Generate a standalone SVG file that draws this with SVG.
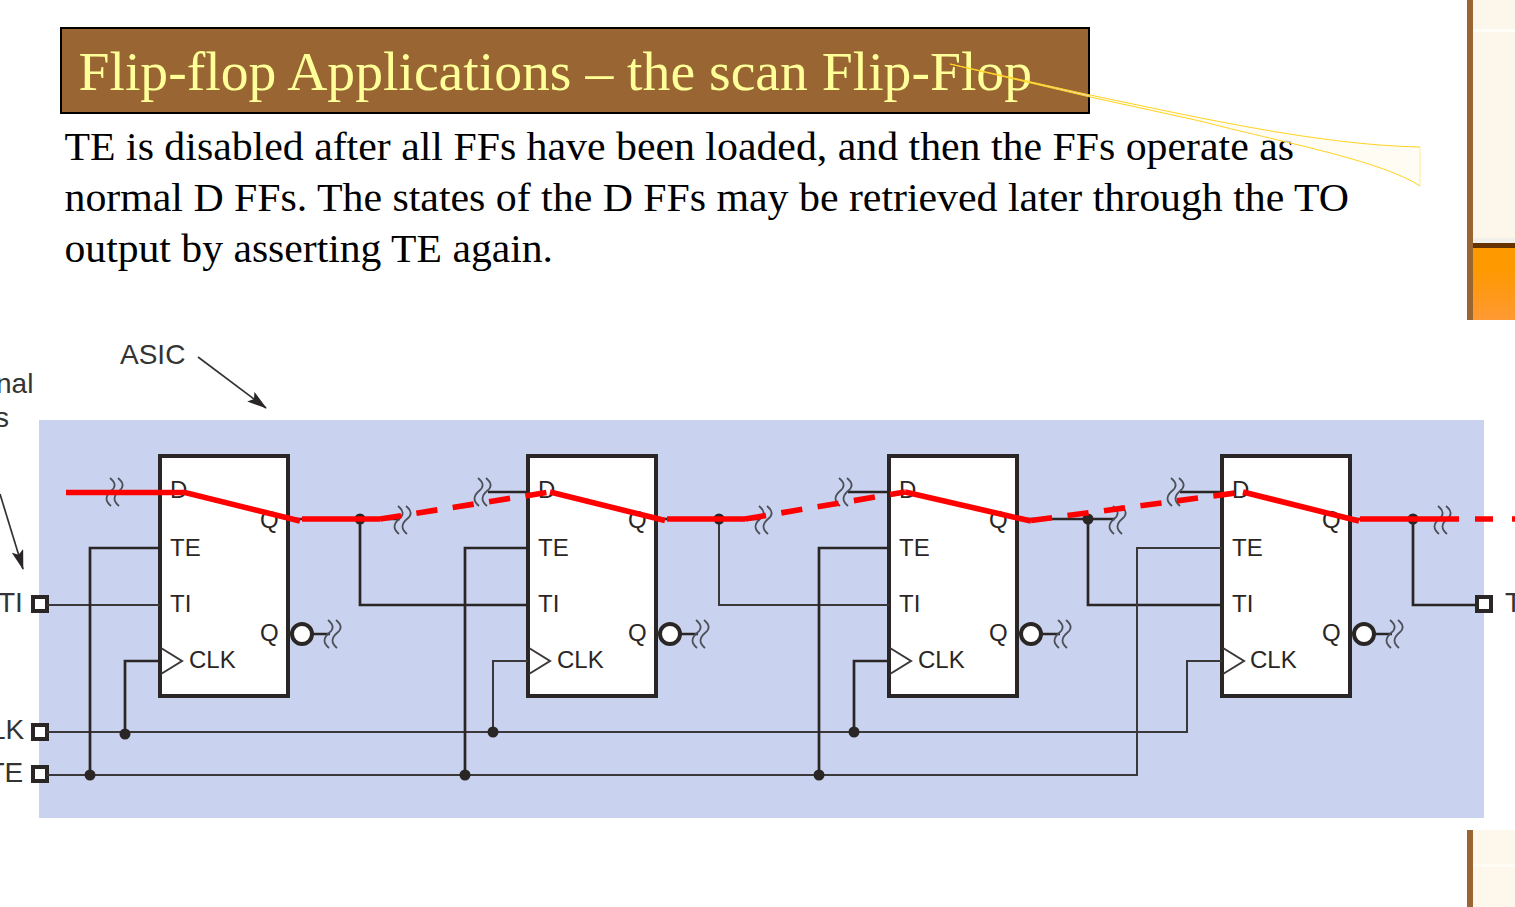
<svg xmlns="http://www.w3.org/2000/svg" xmlns:xlink="http://www.w3.org/1999/xlink" width="1515" height="907" viewBox="0 0 1515 907">
<style>
.w{fill:none;stroke:#2b2626;stroke-width:2.7}
.n{fill:none;stroke:#3a3838;stroke-width:2}
.th{fill:none;stroke:#4d5058;stroke-width:1.8}
.a{fill:none;stroke:#333;stroke-width:1.7}
.b{fill:#fff;stroke:#2b2626;stroke-width:4}
.p{fill:#fff;stroke:#2b2626;stroke-width:4}
.d{fill:#2b2626}
.l{font-family:"Liberation Sans",Arial,sans-serif;font-size:24px;fill:#2b2626}
.o{font-family:"Liberation Sans",Arial,sans-serif;font-size:28px;fill:#333}
.body{font-family:"Liberation Serif","Times New Roman",serif;font-size:40px;fill:#000}
.r{fill:none;stroke:#f00;stroke-width:5.6}
.rd{fill:none;stroke:#f00;stroke-width:5.6;stroke-dasharray:21.300 15.500}
</style>
<defs>
<path id="sq" d="M-1,-14c6,5 6,9 1,13c-6,5 -6,10 0,15M7,-14c6,5 6,9 1,13c-6,5 -6,10 0,15" class="th"/>
<linearGradient id="og" x1="0" y1="0" x2="0" y2="1"><stop offset="0.3" stop-color="#ff9900"/><stop offset="1" stop-color="#ff9933"/></linearGradient>
<marker id="ah" viewBox="0 0 20 12" refX="19" refY="6" markerWidth="20" markerHeight="12" orient="auto" markerUnits="userSpaceOnUse"><path d="M0,0L20,6L0,12L4,6Z" fill="#2b2626"/></marker>
</defs>

<g id="sidebar">
<rect x="1467" y="0" width="6" height="320" fill="#996633"/>
<rect x="1473" y="0" width="42" height="238" fill="#fdf6ea"/>
<rect x="1473" y="29" width="42" height="3" fill="#fffdf8"/>
<rect x="1473" y="238" width="42" height="5" fill="#f2f0ea"/>
<rect x="1473" y="243" width="42" height="5" fill="#663300"/>
<rect x="1473" y="248" width="42" height="72" fill="url(#og)"/>
<rect x="1467" y="830" width="6" height="77" fill="#996633"/>
<rect x="1473" y="830" width="42" height="77" fill="#fef7ec"/>
<rect x="1473" y="864" width="42" height="3" fill="#fffcf6"/>
</g>

<g id="title">
<rect x="61" y="28" width="1028" height="85" fill="#996633" stroke="#000" stroke-width="2"/>
<text x="78.500" y="90" font-family="Liberation Serif,Times New Roman,serif" font-size="54" fill="#ffff99" textLength="953.500" lengthAdjust="spacingAndGlyphs">Flip-flop Applications – the scan Flip-Flop</text>
</g>

<g id="body-text" class="body">
<text x="64.500" y="160" textLength="1229.500" lengthAdjust="spacingAndGlyphs">TE is disabled after all FFs have been loaded, and then the FFs operate as</text>
<text x="64.500" y="211" textLength="1284.500" lengthAdjust="spacingAndGlyphs">normal D FFs. The states of the D FFs may be retrieved later through the TO</text>
<text x="64.500" y="262" textLength="488.500" lengthAdjust="spacingAndGlyphs">output by asserting TE again.</text>
</g>

<g id="callout">
<path d="M950,64L1090,95C1200,118 1320,145 1420,147V186C1380,160 1280,142 1200,121L1090,97Z" fill="#fffdf0" fill-opacity="0.8"/>
<path d="M1420,147V186" fill="none" stroke="#ffeeaa" stroke-width="1.2"/>
<path d="M950,64L1090,95C1200,118 1320,145 1420,147M1420,186C1380,160 1280,142 1200,121L1090,97L950,64" fill="none" stroke="#ffd21f" stroke-width="1"/>
</g>

<g id="asic-bg"><rect x="39" y="420" width="1445" height="398" fill="#c9d3ef"/></g>

<g id="outer-labels" class="o">
<text x="120" y="364">ASIC</text>
<text x="-4" y="393">nal</text>
<text x="-5" y="427">s</text>
<text x="-2" y="612">TI</text>
<text x="-10" y="739">LK</text>
<text x="-12.500" y="782">TE</text>
<text x="1505" y="612">T</text>
</g>

<g id="ff1"><rect class="b" x="160" y="456" width="128" height="240"/><path class="n" d="M161,648L182,661L161,674"/>
<g class="l"><text x="170" y="498">D</text><text x="260" y="528">Q</text><text x="170" y="556">TE</text><text x="170" y="612">TI</text><text x="260" y="641">Q</text><text x="189" y="668">CLK</text></g>
<circle class="p" cx="302" cy="634" r="10"/></g>
<g id="ff2"><rect class="b" x="528" y="456" width="128" height="240"/><path class="n" d="M529,648L550,661L529,674"/>
<g class="l"><text x="538" y="498">D</text><text x="628" y="528">Q</text><text x="538" y="556">TE</text><text x="538" y="612">TI</text><text x="628" y="641">Q</text><text x="557" y="668">CLK</text></g>
<circle class="p" cx="670" cy="634" r="10"/></g>
<g id="ff3"><rect class="b" x="889" y="456" width="128" height="240"/><path class="n" d="M890,648L911,661L890,674"/>
<g class="l"><text x="899" y="498">D</text><text x="989" y="528">Q</text><text x="899" y="556">TE</text><text x="899" y="612">TI</text><text x="989" y="641">Q</text><text x="918" y="668">CLK</text></g>
<circle class="p" cx="1031" cy="634" r="10"/></g>
<g id="ff4"><rect class="b" x="1222" y="456" width="128" height="240"/><path class="n" d="M1223,648L1244,661L1223,674"/>
<g class="l"><text x="1232" y="498">D</text><text x="1322" y="528">Q</text><text x="1232" y="556">TE</text><text x="1232" y="612">TI</text><text x="1322" y="641">Q</text><text x="1250" y="668">CLK</text></g>
<circle class="p" cx="1364" cy="634" r="10"/></g>

<g id="pins">
<rect class="p" x="33" y="597" width="14" height="14"/>
<rect class="p" x="33" y="725" width="14" height="14"/>
<rect class="p" x="33" y="767" width="14" height="14"/>
<rect class="p" x="1477" y="597" width="14" height="14"/>
</g>

<g id="connectors">
<path class="a" d="M198,357L266,408" marker-end="url(#ah)"/>
<path class="a" d="M0,494L23,569" marker-end="url(#ah)"/>

<path class="n" d="M47,605H160"/>
<path class="w" d="M360,519V605H528"/>
<path class="n" d="M719,519V605H889"/>
<path class="w" d="M1088,519V605H1222"/>
<path class="w" d="M1413,519V605H1477"/>
<path class="w" d="M288,519H400M488,492H528M656,519H760M848,492H889M1017,519H1115M1180,492H1222M1350,519H1440"/>
<path class="w" d="M312,634H330M680,634H698M1041,634H1060M1374,634H1392"/>
<path class="n" d="M47,732H1187V661H1222"/>
<path class="w" d="M125,734V661H160"/>
<path class="n" d="M493,732V661H528"/>
<path class="w" d="M854,732V661H889"/>
<path class="n" d="M47,775H1137V548H1222"/>
<path class="w" d="M90,775V548H160"/>
<path class="w" d="M465,775V548H528"/>
<path class="w" d="M819,775V548H889"/>
<g class="d">
<circle cx="125" cy="734" r="5.500"/><circle cx="493" cy="732" r="5.500"/><circle cx="854" cy="732" r="5.500"/>
<circle cx="90" cy="775" r="5.500"/><circle cx="465" cy="775" r="5.500"/><circle cx="819" cy="775" r="5.500"/>
<circle cx="360" cy="519" r="5.500"/><circle cx="719" cy="519" r="5.500"/><circle cx="1088" cy="519" r="5.500"/><circle cx="1413" cy="519" r="5.500"/>
</g>
<use xlink:href="#sq" href="#sq" x="111" y="492"/>
<use xlink:href="#sq" href="#sq" x="399" y="520"/>
<use xlink:href="#sq" href="#sq" x="479" y="492"/>
<use xlink:href="#sq" href="#sq" x="760" y="520"/>
<use xlink:href="#sq" href="#sq" x="840" y="492"/>
<use xlink:href="#sq" href="#sq" x="1114" y="520"/>
<use xlink:href="#sq" href="#sq" x="1172" y="492"/>
<use xlink:href="#sq" href="#sq" x="1439" y="520"/>
<use xlink:href="#sq" href="#sq" x="329" y="634"/>
<use xlink:href="#sq" href="#sq" x="697" y="634"/>
<use xlink:href="#sq" href="#sq" x="1059" y="634"/>
<use xlink:href="#sq" href="#sq" x="1391" y="634"/>
<path class="r" d="M66,492.500H185L300,521"/>
<path class="r" d="M302,519H380"/>
<path class="rd" d="M380,519L550,492"/>
<path class="r" d="M550,492L665,520.500"/>
<path class="r" d="M667,519H745"/>
<path class="rd" d="M745,519L905,492"/>
<path class="r" d="M905,492L1031,521"/>
<path class="rd" d="M1031,520.500L1243,492"/>
<path class="r" d="M1243,492L1359,521"/>
<path class="r" d="M1360,519H1459"/>
<path class="r" stroke-dasharray="18 19" d="M1475,519H1515"/>
</g>
</svg>
